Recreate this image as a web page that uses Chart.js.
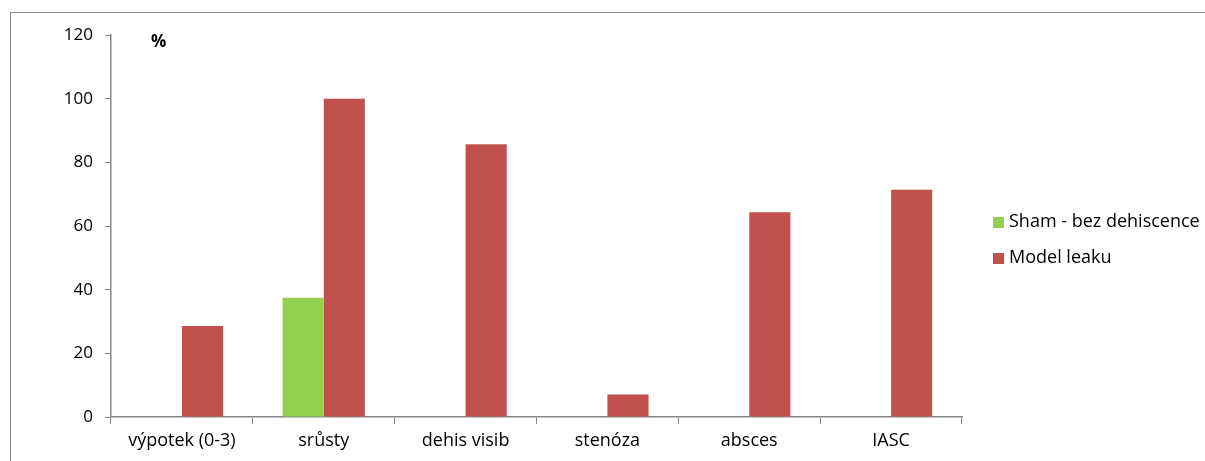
<!DOCTYPE html>
<html>
<head>
<meta charset="utf-8">
<script src="https://cdn.jsdelivr.net/npm/chart.js@4/dist/chart.umd.min.js"></script>
<style>
  html, body { margin: 0; padding: 0; background: #fff; overflow: hidden; }
  #wrap { position: relative; width: 1205px; height: 461px; overflow: hidden; }
  #frame { position: absolute; left: 10px; top: 12px; width: 1300px; height: 500px; border: 1px solid #8a8a8a; box-sizing: border-box; }
  #c { position: absolute; left: 0; top: 0; }
</style>
</head>
<body>
<div id="wrap">
  <div id="frame"></div>
  <canvas id="c" width="1205" height="461"></canvas>
</div>
<script>
const categories = ['výpotek (0-3)', 'srůsty', 'dehis visib', 'stenóza', 'absces', 'IASC'];
const shamValues = [0, 37.5, 0, 0, 0, 0];
const leakValues = [28.6, 100, 85.7, 7.1, 64.3, 71.4];
const seriesNames = ['Sham - bez dehiscence', 'Model leaku'];
const seriesColors = ['#92D050', '#C0504D'];
const yTicks = [0, 20, 40, 60, 80, 100, 120];

const FONT = "'Open Sans', 'Noto Sans', sans-serif";
const AXIS = '#868686';

// legend and "%" label drawn by hand next to the plot
const extras = {
  id: 'extras',
  afterDraw(chart) {
    const ctx = chart.ctx;
    ctx.save();
    ctx.font = 'bold 17px ' + FONT;
    ctx.fillStyle = '#000';
    ctx.textBaseline = 'middle';
    ctx.fillText('%', 151, 42);

    ctx.font = '18px ' + FONT;
    chart.data.datasets.forEach((ds, i) => {
      const y = 222 + i * 36;
      ctx.fillStyle = ds.backgroundColor;
      ctx.fillRect(993, y - 5, 11, 11);
      ctx.fillStyle = '#000';
      ctx.fillText(ds.label, 1009, y);
    });
    ctx.restore();
  }
};

new Chart(document.getElementById('c'), {
  type: 'bar',
  data: {
    labels: categories,
    datasets: [
      { label: seriesNames[0], data: shamValues, backgroundColor: seriesColors[0] },
      { label: seriesNames[1], data: leakValues, backgroundColor: seriesColors[1] }
    ]
  },
  options: {
    responsive: false,
    animation: false,
    layout: { padding: { left: 0, right: 243, top: 35, bottom: 0 } },
    datasets: { bar: { categoryPercentage: 0.58, barPercentage: 1.0 } },
    plugins: { legend: { display: false }, tooltip: { enabled: false } },
    scales: {
      x: {
        grid: { drawOnChartArea: false, drawTicks: true, tickLength: 7, color: AXIS, offset: true },
        border: { color: AXIS, width: 1.5 },
        ticks: { color: '#000', font: { family: FONT, size: 18 }, padding: 6 },
        afterFit: s => { s.height = 44; }
      },
      y: {
        min: 0, max: 120,
        afterBuildTicks: s => { s.ticks = yTicks.map(v => ({ value: v })); },
        grid: { drawOnChartArea: false, drawTicks: true, tickLength: 6, color: AXIS },
        border: { color: AXIS, width: 1.5 },
        ticks: { color: '#000', font: { family: FONT, size: 17 }, padding: 12 },
        afterFit: s => { s.width = 111; }
      }
    }
  },
  plugins: [extras]
});
</script>
</body>
</html>
